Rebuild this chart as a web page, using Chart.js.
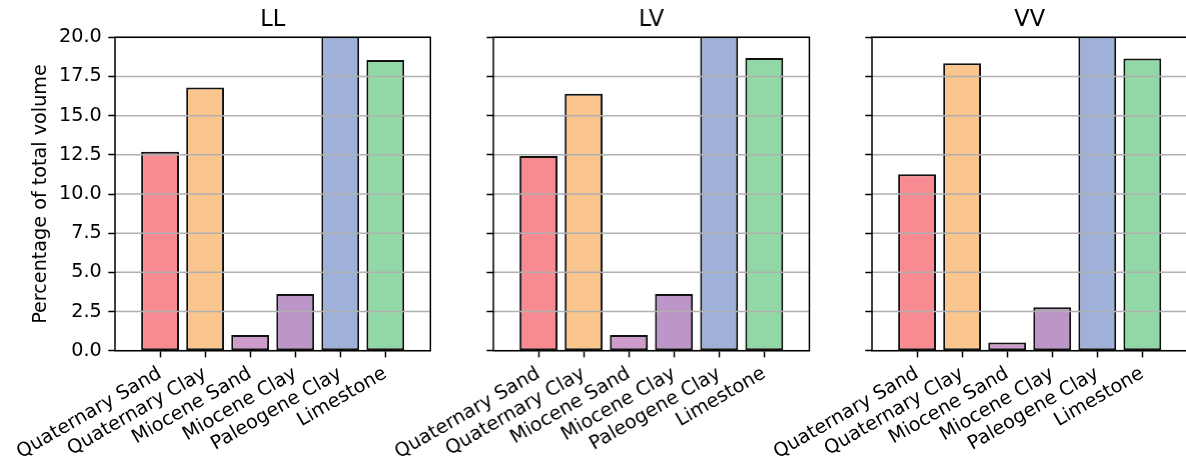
<!DOCTYPE html>
<html>
<head>
<meta charset="utf-8">
<title>Percentage of total volume by lithology</title>
<script src="https://cdn.jsdelivr.net/npm/chart.js@4/dist/chart.umd.min.js"></script>
<style>
  html, body { margin: 0; padding: 0; background: #fff; }
  #wrap { position: relative; width: 1186px; height: 461px; overflow: hidden; background: #fff; }
  .panel { position: absolute; top: 0; height: 461px; }
</style>
</head>
<body>
<div id="wrap"></div>
<script>
// Lithology classes shown on every panel
const categories = ['Quaternary Sand', 'Quaternary Clay', 'Miocene Sand', 'Miocene Clay', 'Paleogene Clay', 'Limestone'];
const barColors = ['#f88a92', '#fac68e', '#ce9cca', '#bc96c8', '#9fb1d8', '#92d8a6'];

// Share of total volume (%) per lithology for each model
const panelTitles = ['LL', 'LV', 'VV'];
const valuesLL = [12.70, 16.79, 1.00, 3.62, 47.34, 18.55];
const valuesLV = [12.43, 16.40, 1.00, 3.62, 47.87, 18.68];
const valuesVV = [11.26, 18.34, 0.53, 2.77, 48.46, 18.64];
const panelValues = [valuesLL, valuesLV, valuesVV];

// Y axis range and tick spacing
const yMin = 0, yMax = 20, yStep = 2.5;
const yLabel = 'Percentage of total volume';

// Panel geometry (px)
const plotLefts = [115, 493.3, 871.6];
const plotWidth = 315.4;
const plotBottom = 350.7;
const axisWidth = 160, padRight = 10;
const H = 461;
const tickFont = 19.2, titleFont = 22.5;
// y-axis title centre, measured from the page's left edge
const yLabelCenter = 41;

Chart.defaults.font.family = "'DejaVu Sans', sans-serif";
Chart.defaults.color = '#000';

// horizontal grid drawn over the bars
const gridOnTop = {
  id: 'gridOnTop',
  afterDatasetsDraw(chart) {
    const { ctx, chartArea: a, scales: { y } } = chart;
    ctx.save();
    ctx.strokeStyle = '#b0b0b0';
    ctx.lineWidth = 1.5;
    y.ticks.forEach(t => {
      const py = y.getPixelForValue(t.value);
      ctx.beginPath();
      ctx.moveTo(a.left, py);
      ctx.lineTo(a.right, py);
      ctx.stroke();
    });
    ctx.restore();
  }
};

// four-sided axes frame
const frame = {
  id: 'frame',
  afterDraw(chart) {
    const { ctx, chartArea: a } = chart;
    ctx.save();
    ctx.strokeStyle = '#000';
    ctx.lineWidth = 1.5;
    ctx.strokeRect(a.left, a.top, a.right - a.left, a.bottom - a.top);
    ctx.restore();
  }
};

const wrap = document.getElementById('wrap');

panelTitles.forEach((title, i) => {
  const left = plotLefts[i] - axisWidth;
  const width = axisWidth + plotWidth + padRight;
  const div = document.createElement('div');
  div.className = 'panel';
  div.style.left = left + 'px';
  div.style.width = width + 'px';
  const canvas = document.createElement('canvas');
  div.appendChild(canvas);
  wrap.appendChild(div);

  const first = i === 0;
  const values = panelValues[i];

  new Chart(canvas, {
    type: 'bar',
    data: {
      datasets: [{
        data: values.map((v, k) => ({ x: k, y: v })),
        backgroundColor: barColors,
        borderColor: '#111',
        borderWidth: 2,
        borderSkipped: false,
        barPercentage: 1,
        categoryPercentage: 0.84,
        clip: 0
      }]
    },
    options: {
      responsive: true,
      maintainAspectRatio: false,
      animation: false,
      events: [],
      layout: { padding: { left: 0, right: padRight, top: 0, bottom: 0 } },
      plugins: {
        legend: { display: false },
        tooltip: { enabled: false },
        title: {
          display: true,
          fullSize: false,
          text: title,
          color: '#000',
          font: { size: titleFont, weight: 'normal' },
          padding: { top: 7, bottom: 3.3 }
        }
      },
      scales: {
        x: {
          type: 'linear',
          min: -1,
          max: 6,
          offset: false,
          afterBuildTicks(axis) {
            axis.ticks = axis.ticks.filter(t => t.value >= 0 && t.value < categories.length);
          },
          afterFit(axis) { axis.height = H - plotBottom; },
          border: { display: false },
          grid: {
            offset: false,
            drawOnChartArea: false,
            drawTicks: true,
            tickLength: 6.7,
            tickColor: '#000',
            tickWidth: 1.5
          },
          ticks: {
            stepSize: 1,
            autoSkip: false,
            maxRotation: 30,
            minRotation: 30,
            padding: 5,
            font: { size: tickFont },
            callback: v => categories[v] ?? ''
          }
        },
        y: {
          min: yMin,
          max: yMax,
          afterFit(axis) { axis.width = axisWidth; },
          border: { display: false },
          grid: {
            drawOnChartArea: false,
            drawTicks: true,
            tickLength: 6.7,
            tickColor: '#000',
            tickWidth: 1.5
          },
          ticks: {
            display: first,
            stepSize: yStep,
            padding: 6.5,
            font: { size: tickFont },
            callback: v => Number(v).toFixed(1)
          },
          title: {
            display: first,
            text: yLabel,
            font: { size: tickFont },
            // offset from the canvas edge so the label sits at yLabelCenter on the page
            padding: { top: yLabelCenter - left - tickFont * 0.6, bottom: 0 }
          }
        }
      }
    },
    plugins: [gridOnTop, frame]
  });
});
</script>
</body>
</html>
